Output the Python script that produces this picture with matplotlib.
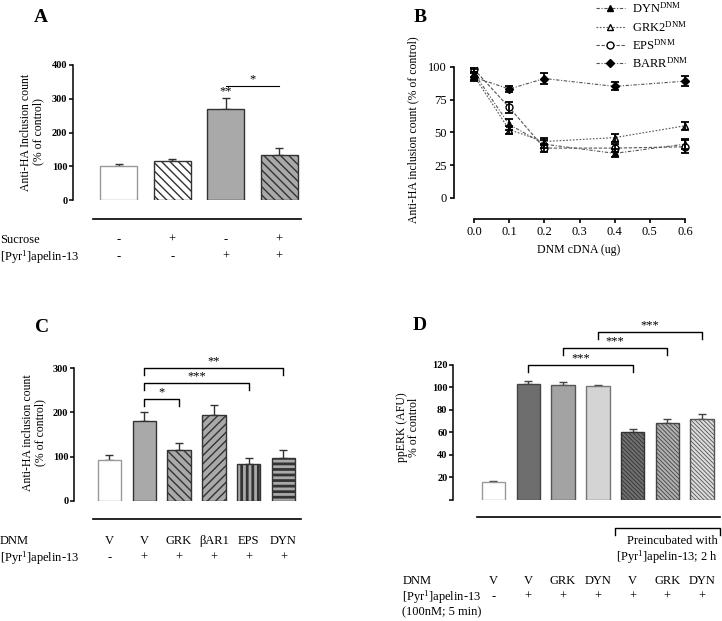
import matplotlib
matplotlib.use('Agg')
import matplotlib.pyplot as plt
from matplotlib.transforms import blended_transform_factory

plt.rcParams['font.family'] = ['Liberation Serif', 'DejaVu Serif']
plt.rcParams['mathtext.fontset'] = 'custom'
plt.rcParams['mathtext.rm'] = 'Liberation Serif'
plt.rcParams['mathtext.it'] = 'Liberation Serif:italic'
plt.rcParams['mathtext.bf'] = 'Liberation Serif:bold'
plt.rcParams['hatch.color'] = 'black'
plt.rcParams['hatch.linewidth'] = 1.0

# ---- data ----
# Panel A
a_sucrose = ['-', '+', '-', '+']
a_apelin = ['-', '-', '+', '+']
a_values = [101, 115, 271, 133]
a_errors = [7, 7, 31, 22]

# Panel B
b_dose = [0.0, 0.1, 0.2, 0.4, 0.6]
b_dyn = [95, 56, 41, 34, 41]
b_dyn_err = [3, 4, 3, 3, 4]
b_grk2 = [93, 52, 43, 46, 55]
b_grk2_err = [3, 3, 3, 3, 3]
b_eps = [98, 69, 38, 38, 39]
b_eps_err = [2, 4, 3, 3, 5]
b_barr = [92, 83, 91, 85, 89]
b_barr_err = [3, 2, 4, 3, 4]

# Panel C
c_dnm = ['V', 'V', 'GRK', 'βAR1', 'EPS', 'DYN']
c_apelin = ['-', '+', '+', '+', '+', '+']
c_values = [92, 181, 116, 194, 83, 98]
c_errors = [12, 19, 15, 22, 15, 16]

# Panel D
d_dnm = ['V', 'V', 'GRK', 'DYN', 'V', 'GRK', 'DYN']
d_apelin = ['-', '+', '+', '+', '+', '+', '+']
d_values = [16, 103, 102, 101, 60, 68, 72]
d_errors = [1, 3, 3, 1, 3, 4, 4]

PYR = r'[Pyr$^{\mathrm{1}}$]apelin-13'
ROW_FS = 9
TICK_FS = 7.5
STAR_FS = 9

W, H = 722, 621
fig = plt.figure(figsize=(W / 100, H / 100), dpi=100)


def fx(px):
    return px / W


def fy(py):
    return 1 - py / H


def px_axes(left, top, right, bottom):
    return fig.add_axes([fx(left), fy(bottom), (right - left) / W, (bottom - top) / H])


def style_bar_axes(ax, ymax, yticks, labels=None):
    for s in ['top', 'right', 'bottom']:
        ax.spines[s].set_visible(False)
    ax.spines['left'].set_linewidth(1.1)
    ax.spines['left'].set_bounds(0, ymax)
    ax.set_ylim(0, ymax)
    ax.set_xticks([])
    ax.set_yticks(yticks)
    if labels is not None:
        ax.set_yticklabels(labels)
    ax.tick_params(axis='y', direction='out', length=3, width=1.1, pad=1, labelsize=TICK_FS)
    for t in ax.get_yticklabels():
        t.set_fontweight('bold')


def set_hlw(patch, lw):
    try:
        patch.set_hatch_linewidth(lw)
    except AttributeError:
        pass


def bracket(ax, x0, x1, y, drop, text, fs=STAR_FS):
    ax.plot([x0, x0, x1, x1], [y - drop, y, y, y - drop], color='black', lw=1.0, clip_on=False)
    ax.text((x0 + x1) / 2, y + drop * 0.1, text, ha='center', va='bottom', fontsize=fs, clip_on=False)


def row_texts(ax, labels, ypx, label_text, label_x, fs=ROW_FS):
    tr = blended_transform_factory(ax.transData, fig.transFigure)
    for i, s in enumerate(labels):
        ax.text(i, fy(ypx), s, transform=tr, ha='center', va='center', fontsize=fs)
    fig.text(fx(label_x), fy(ypx), label_text, ha='left', va='center', fontsize=fs)


def base_line(ax, x0, x1, ypx):
    tr = blended_transform_factory(ax.transData, fig.transFigure)
    ax.plot([x0, x1], [fy(ypx), fy(ypx)], color='black', lw=1.2, transform=tr, clip_on=False)


# ================= Panel A =================
axA = px_axes(73, 65, 305, 200)
xa = list(range(len(a_values)))
a_face = ['white', 'white', '#a9a9a9', '#a9a9a9']
a_hatch = [None, '\\\\\\\\', None, '\\\\\\\\']
a_edge = ['#999999', '#333333', '#333333', '#333333']
barsA = axA.bar(xa, a_values, width=0.69, color=a_face, edgecolor=a_edge, linewidth=1.0, zorder=2)
for b, h in zip(barsA, a_hatch):
    if h:
        b.set_hatch(h)
        set_hlw(b, 1.0)
axA.errorbar(xa, a_values, yerr=[[0] * 4, a_errors], fmt='none', ecolor='#333333',
             elinewidth=1.0, capsize=3, capthick=1.0, zorder=1)
axA.set_xlim(-0.85, 3.48)
style_bar_axes(axA, 400, [0, 100, 200, 300, 400])
axA.text(2, a_values[2] + a_errors[2] + 2, '**', ha='center', va='bottom', fontsize=STAR_FS)
axA.plot([2, 3], [338, 338], color='black', lw=0.8, clip_on=False)
axA.text(2.5, 340, '*', ha='center', va='bottom', fontsize=STAR_FS)
base_line(axA, -0.48, 3.4, 219)
row_texts(axA, a_sucrose, 240, 'Sucrose', 0)
row_texts(axA, a_apelin, 257, PYR, 0)
fig.text(fx(32), fy(132), 'Anti-HA Inclusion count\n(% of control)', rotation=90,
         ha='center', va='center', fontsize=8.5, linespacing=1.1)
fig.text(fx(41), fy(18), 'A', ha='center', va='center', fontsize=14, fontweight='bold')

# ================= Panel B =================
axB = px_axes(454, 66.7, 692, 198)
ls_col = '#555555'
hB = []
hB.append(axB.plot(b_dose, b_dyn, linestyle=(0, (3, 1.5, 1, 1.5)), color=ls_col, lw=0.8,
                   marker='^', ms=5, mfc='black', mec='black', label=r'DYN$^{\mathrm{DNM}}$')[0])
hB.append(axB.plot(b_dose, b_grk2, linestyle=(0, (1.5, 1.5)), color=ls_col, lw=0.8,
                   marker='^', ms=5, mfc='white', mec='black', label=r'GRK2$^{\mathrm{DNM}}$')[0])
hB.append(axB.plot(b_dose, b_eps, linestyle=(0, (3, 1.5)), color=ls_col, lw=0.8,
                   marker='o', ms=5, mfc='white', mec='black', label=r'EPS$^{\mathrm{DNM}}$')[0])
hB.append(axB.plot(b_dose, b_barr, linestyle=(0, (3, 1.5, 1, 1.5)), color=ls_col, lw=0.8,
                   marker='D', ms=4.5, mfc='black', mec='black', label=r'BARR$^{\mathrm{DNM}}$')[0])
for vals, errs in [(b_dyn, b_dyn_err), (b_grk2, b_grk2_err), (b_eps, b_eps_err), (b_barr, b_barr_err)]:
    axB.errorbar(b_dose, vals, yerr=errs, fmt='none', ecolor='black', elinewidth=1.3,
                 capsize=3, capthick=1.3)
axB.set_xlim(-0.057, 0.62)
axB.set_ylim(0, 100)
for s in ['top', 'right']:
    axB.spines[s].set_visible(False)
axB.spines['left'].set_bounds(0, 100)
axB.spines['left'].set_linewidth(1.2)
axB.spines['bottom'].set_bounds(0, 0.6)
axB.spines['bottom'].set_linewidth(1.2)
axB.spines['bottom'].set_position(('outward', 15))
axB.set_yticks([0, 25, 50, 75, 100])
axB.set_xticks([0.0, 0.1, 0.2, 0.3, 0.4, 0.5, 0.6])
axB.set_xticklabels(['0.0', '0.1', '0.2', '0.3', '0.4', '0.5', '0.6'])
axB.tick_params(direction='out', length=3, width=1.2, labelsize=9, pad=2)
fig.text(fx(579), fy(250), 'DNM cDNA (ug)', ha='center', va='center', fontsize=8.5)
fig.text(fx(413), fy(130), 'Anti-HA inclusion count (% of control)', rotation=90,
         ha='center', va='center', fontsize=8.5)
fig.legend(handles=hB, loc='center left', bbox_to_anchor=(fx(596), fy(36)), frameon=False,
           fontsize=9, handlelength=2.3, handletextpad=0.6, labelspacing=0.3,
           borderpad=0, borderaxespad=0)
fig.text(fx(420), fy(17), 'B', ha='center', va='center', fontsize=14, fontweight='bold')

# ================= Panel C =================
axC = px_axes(74, 368, 305, 501)
xc = list(range(len(c_values)))
c_face = ['white', '#a9a9a9', '#a9a9a9', '#a9a9a9', '#a9a9a9', '#a9a9a9']
c_hatch = [None, None, '\\\\\\\\', '////', '|||', '---']
c_hlw = [1, 1, 1.0, 1.0, 2.0, 2.0]
c_edge = ['#999999', '#333333', '#333333', '#333333', '#333333', '#333333']
barsC = axC.bar(xc, c_values, width=0.675, color=c_face, edgecolor=c_edge, linewidth=1.0, zorder=2)
for b, h, lw in zip(barsC, c_hatch, c_hlw):
    if h:
        b.set_hatch(h)
        set_hlw(b, lw)
axC.errorbar(xc, c_values, yerr=[[0] * 6, c_errors], fmt='none', ecolor='#333333',
             elinewidth=1.0, capsize=3, capthick=1.0, zorder=1)
axC.set_xlim(-1.02, 5.62)
style_bar_axes(axC, 300, [0, 100, 200, 300])
bracket(axC, 1, 2, 230, 15, '*')
bracket(axC, 1, 4, 266, 15, '***')
bracket(axC, 1, 5, 300, 15, '**')
base_line(axC, -0.47, 5.5, 519)
row_texts(axC, c_dnm, 541, 'DNM', 0)
row_texts(axC, c_apelin, 558, PYR, 0)
fig.text(fx(34), fy(433), 'Anti-HA inclusion count\n(% of control)', rotation=90,
         ha='center', va='center', fontsize=8.5, linespacing=1.1)
fig.text(fx(42), fy(327), 'C', ha='center', va='center', fontsize=14, fontweight='bold')

# ================= Panel D =================
axD = px_axes(453, 365, 722, 499.7)
xd = list(range(len(d_values)))
d_face = ['white', '#6e6e6e', '#a3a3a3', '#d4d4d4', '#707070', '#b0b0b0', '#dcdcdc']
d_edge = ['#999999', '#444444', '#555555', '#777777', '#333333', '#444444', '#555555']
d_hatch = [None, None, None, None, '\\\\\\\\\\\\\\\\', '\\\\\\\\\\\\\\\\', '\\\\\\\\\\\\\\\\']
barsD = axD.bar(xd, d_values, width=0.675, color=d_face, edgecolor=d_edge, linewidth=1.0, zorder=2)
for b, h in zip(barsD, d_hatch):
    if h:
        b.set_hatch(h)
        set_hlw(b, 0.6)
axD.errorbar(xd, d_values, yerr=[[0] * 7, d_errors], fmt='none', ecolor='#444444',
             elinewidth=1.0, capsize=3, capthick=1.0, zorder=1)
axD.set_xlim(-1.164, 6.57)
style_bar_axes(axD, 120, [0, 20, 40, 60, 80, 100, 120], ['', '20', '40', '60', '80', '100', '120'])
bracket(axD, 1, 4, 120, 6, '***')
bracket(axD, 2, 5, 135, 6, '***')
bracket(axD, 3, 6, 149, 6, '***')
base_line(axD, -0.47, 6.5, 517)
trD = blended_transform_factory(axD.transData, fig.transFigure)
axD.plot([3.5, 3.5, 6.5, 6.5], [fy(535), fy(528), fy(528), fy(535)], color='black', lw=1.0,
         transform=trD, clip_on=False)
fig.text(fx(672), fy(541), 'Preincubated with', ha='center', va='center', fontsize=ROW_FS)
fig.text(fx(667), fy(557), PYR + '; 2 h', ha='center', va='center', fontsize=ROW_FS)
row_texts(axD, d_dnm, 581, 'DNM', 403)
row_texts(axD, d_apelin, 597, PYR, 402)
fig.text(fx(402), fy(612), '(100nM; 5 min)', ha='left', va='center', fontsize=ROW_FS)
fig.text(fx(408), fy(427), 'ppERK (AFU)\n% of control', rotation=90,
         ha='center', va='center', fontsize=8.5, linespacing=1.1)
fig.text(fx(420), fy(326), 'D', ha='center', va='center', fontsize=14, fontweight='bold')

fig.savefig('out.png', dpi=100)
